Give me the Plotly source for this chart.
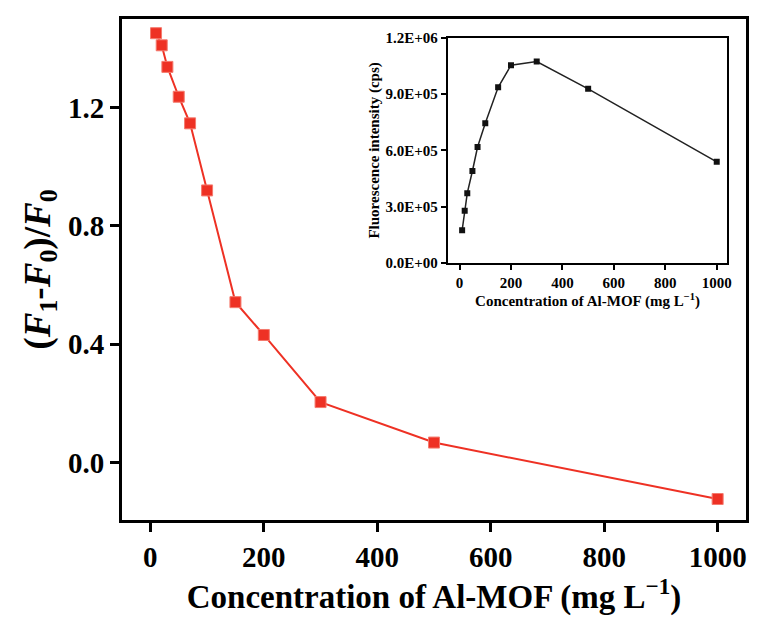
import plotly.graph_objects as go

# Al-MOF concentration (mg/L)
conc = [10, 20, 30, 50, 70, 100, 150, 200, 300, 500, 1000]
# relative fluorescence change (F1-F0)/F0
ratio = [1.452, 1.411, 1.338, 1.237, 1.147, 0.920, 0.542, 0.431, 0.204, 0.067, -0.124]
# fluorescence intensity (cps)
intensity = [1.74e5, 2.78e5, 3.72e5, 4.90e5, 6.18e5, 7.45e5, 9.36e5, 1.054e6, 1.073e6, 9.28e5, 5.39e5]

main_yticks = [0.0, 0.4, 0.8, 1.2]
main_xticks = [0, 200, 400, 600, 800, 1000]
inset_yticks = [0, 3e5, 6e5, 9e5, 1.2e6]
inset_ytext = ["0.0E+00", "3.0E+05", "6.0E+05", "9.0E+05", "1.2E+06"]
inset_xticks = [0, 200, 400, 600, 800, 1000]

FONT = "Liberation Serif"
RED = "#EE3124"

fig = go.Figure()

fig.add_trace(go.Scatter(
    x=conc, y=ratio, mode="lines+markers",
    line=dict(color=RED, width=2),
    marker=dict(symbol="square", size=11, color=RED,
                line=dict(color="#F47A6E", width=1)),
    xaxis="x", yaxis="y", showlegend=False,
))

fig.add_trace(go.Scatter(
    x=conc, y=intensity, mode="lines+markers",
    line=dict(color="#222222", width=1.5),
    marker=dict(symbol="square", size=6, color="#111111"),
    xaxis="x2", yaxis="y2", showlegend=False,
))

main_axis = dict(
    showline=True, linecolor="black", linewidth=3, mirror=True,
    ticks="outside", ticklen=9, tickwidth=3, tickcolor="black",
    showgrid=False, zeroline=False,
    tickfont=dict(family=FONT, size=29, color="black", weight="bold"),
)
inset_axis = dict(
    showline=True, linecolor="black", linewidth=2, mirror=True,
    ticks="outside", ticklen=5, tickwidth=1.5, tickcolor="black",
    showgrid=False, zeroline=False,
    tickfont=dict(family=FONT, size=15, color="black", weight="bold"),
)

fig.update_layout(
    width=761, height=617,
    margin=dict(l=122, r=11, t=13, b=97),
    paper_bgcolor="white", plot_bgcolor="white",
    xaxis=dict(
        **main_axis, range=[-50, 1050], tickvals=main_xticks,
        title=dict(text="Concentration of Al-MOF (mg L<sup>\u22121</sup>)",
                   font=dict(family=FONT, size=33, color="black", weight="bold"),
                   standoff=6),
    ),
    yaxis=dict(
        **main_axis, range=[-0.195, 1.50], tickvals=main_yticks, tickformat=".1f",
        title=dict(text="(<i>F</i><sub>1</sub>-<i>F</i><sub>0</sub>)/<i>F</i><sub>0</sub>",
                   font=dict(family=FONT, size=37, color="black", weight="bold"),
                   standoff=7),
    ),
    xaxis2=dict(
        **inset_axis, domain=[0.522, 0.970], anchor="y2",
        range=[-46, 1041], tickvals=inset_xticks,
        title=dict(text="Concentration of Al-MOF (mg L<sup>\u22121</sup>)",
                   font=dict(family=FONT, size=15, color="black", weight="bold"),
                   standoff=0),
    ),
    yaxis2=dict(
        **inset_axis, domain=[0.513, 0.9625], anchor="x2",
        range=[0, 1.2e6], tickvals=inset_yticks, ticktext=inset_ytext,
        title=dict(text="Fluorescence intensity (cps)",
                   font=dict(family=FONT, size=15, color="black", weight="bold"),
                   standoff=2),
    ),
)

fig.write_html("out.html")
